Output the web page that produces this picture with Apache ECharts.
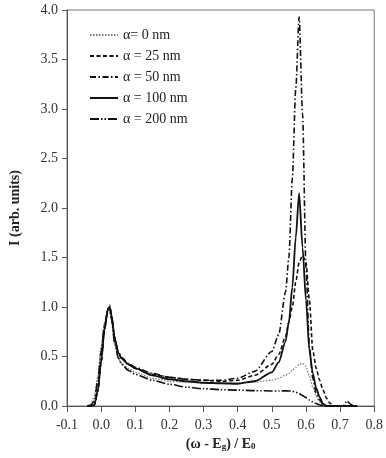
<!DOCTYPE html>
<html>
<head>
<meta charset="utf-8">
<script src="https://cdn.jsdelivr.net/npm/echarts@6/dist/echarts.min.js"></script>
<style>
  html, body { margin: 0; padding: 0; background: #fff; }
  #chart { width: 386px; height: 458px; }
</style>
</head>
<body>
<div id="chart"></div>
<script>
// x values, (ω - Eg) / E0
var xs = [-0.04, -0.03, -0.02, -0.01, 0.0, 0.01, 0.02, 0.025, 0.03, 0.04, 0.05, 0.06, 0.08, 0.1, 0.15, 0.2, 0.25, 0.3, 0.35, 0.4, 0.45, 0.5, 0.52, 0.54, 0.55, 0.56, 0.57, 0.58, 0.59, 0.6, 0.61, 0.62, 0.63, 0.64, 0.65, 0.66, 0.67, 0.68, 0.69, 0.7, 0.71, 0.72, 0.73, 0.74, 0.75];

// intensity values
var a0   = [0, 0.02, 0.1, 0.3, 0.6, 0.85, 0.97, 0.97, 0.88, 0.62, 0.48, 0.43, 0.38, 0.34, 0.28, 0.25, 0.24, 0.23, 0.23, 0.235, 0.24, 0.26, 0.28, 0.31, 0.33, 0.36, 0.39, 0.42, 0.43, 0.4, 0.3, 0.19, 0.1, 0.04, 0.01, 0, 0, 0, 0, 0, 0, 0, 0, 0, 0];
var a25  = [0, 0, 0.01, 0.15, 0.45, 0.78, 0.98, 1.0, 0.92, 0.68, 0.54, 0.48, 0.42, 0.38, 0.32, 0.29, 0.27, 0.26, 0.25, 0.26, 0.31, 0.42, 0.52, 0.7, 0.85, 1.0, 1.25, 1.45, 1.52, 1.45, 1.07, 0.56, 0.38, 0.26, 0.16, 0.08, 0.03, 0, 0, 0, 0, 0, 0, 0, 0];
var a50  = [0, 0, 0.01, 0.15, 0.45, 0.78, 0.98, 1.02, 0.93, 0.69, 0.55, 0.49, 0.43, 0.39, 0.33, 0.29, 0.27, 0.26, 0.26, 0.28, 0.35, 0.55, 0.72, 1.15, 1.5, 2.3, 3.2, 3.93, 2.95, 1.4, 0.6, 0.28, 0.13, 0.06, 0.02, 0, 0, 0, 0, 0, 0, 0, 0, 0, 0];
var a100 = [0, 0, 0.01, 0.15, 0.45, 0.78, 0.98, 1.0, 0.92, 0.68, 0.54, 0.48, 0.42, 0.38, 0.31, 0.27, 0.25, 0.235, 0.23, 0.225, 0.25, 0.34, 0.44, 0.65, 0.85, 1.2, 1.7, 2.15, 1.6, 1.07, 0.56, 0.33, 0.18, 0.09, 0.02, 0, 0, 0, 0, 0, 0, 0, 0, 0, 0];
var a200 = [0, 0.01, 0.05, 0.25, 0.55, 0.82, 0.96, 0.97, 0.88, 0.63, 0.49, 0.42, 0.36, 0.32, 0.26, 0.22, 0.19, 0.175, 0.165, 0.16, 0.155, 0.152, 0.152, 0.153, 0.152, 0.15, 0.14, 0.125, 0.105, 0.085, 0.06, 0.04, 0.025, 0.012, 0.004, 0, 0, 0, 0, 0, 0.005, 0.05, 0.02, 0, 0];

var names = ['α= 0 nm', 'α = 25 nm', 'α = 50 nm', 'α = 100 nm', 'α = 200 nm'];
var xTicks = [-0.1, 0.8, 0.1];
var yTicks = [0, 4, 0.5];

function pairs(ys) {
  var out = [];
  for (var i = 0; i < xs.length; i++) out.push([xs[i], ys[i]]);
  return out;
}

var serif = 'Liberation Serif';
var myChart = echarts.init(document.getElementById('chart'));

function line(name, ys, color, width, type) {
  return {
    name: name,
    type: 'line',
    data: pairs(ys),
    symbol: 'none',
    smooth: 0.25,
    smoothMonotone: 'x',
    lineStyle: { color: color, width: width, type: type },
    itemStyle: { color: color }
  };
}

var options = {
  animation: false,
  backgroundColor: '#fff',
  grid: {
    left: 63, right: 11, top: 10, bottom: 52,
    show: true, borderColor: '#777', borderWidth: 1
  },
  legend: {
    orient: 'vertical',
    left: 84, top: 23,
    itemWidth: 28, itemHeight: 14, itemGap: 7,
    itemStyle: { opacity: 0 },
    textStyle: { fontFamily: serif, fontSize: 14, color: '#222' },
    data: names
  },
  xAxis: {
    type: 'value',
    min: xTicks[0], max: xTicks[1], interval: xTicks[2],
    name: '(ω - E{s|g}) / E{s|0}',
    nameLocation: 'middle',
    nameGap: 29,
    nameTextStyle: {
      fontFamily: serif, fontSize: 14, fontWeight: 'bold', color: '#222',
      rich: { s: { fontFamily: serif, fontSize: 9, fontWeight: 'bold', color: '#222', verticalAlign: 'bottom', padding: [6, 0, 0, 0] } }
    },
    axisLine: { lineStyle: { color: '#555' } },
    axisTick: { inside: false, length: 6, lineStyle: { color: '#555' } },
    axisLabel: {
      fontFamily: serif, fontSize: 14, color: '#333', margin: 12,
      formatter: function (v) { return v.toFixed(1); }
    },
    splitLine: { show: false }
  },
  yAxis: {
    type: 'value',
    min: yTicks[0], max: yTicks[1], interval: yTicks[2],
    name: 'I (arb. units)',
    nameLocation: 'middle',
    nameGap: 45,
    nameTextStyle: { fontFamily: serif, fontSize: 14, fontWeight: 'bold', color: '#222' },
    axisLine: { show: true, onZero: false, lineStyle: { color: '#555' } },
    axisTick: { show: true, inside: false, length: 5, lineStyle: { color: '#555' } },
    axisLabel: {
      fontFamily: serif, fontSize: 14, color: '#333', margin: 9,
      formatter: function (v) { return v.toFixed(1); }
    },
    splitLine: { show: false }
  },
  series: [
    line(names[0], a0, '#777', 1.2, [1.5, 1.5]),
    line(names[1], a25, '#111', 1.6, [4, 2.5]),
    line(names[2], a50, '#111', 1.6, [6, 2.5, 1.5, 2.5]),
    line(names[3], a100, '#111', 1.8, 'solid'),
    line(names[4], a200, '#111', 1.6, [9, 2, 1.5, 2, 1.5, 2])
  ]
};
myChart.setOption(options);
</script>
</body>
</html>
